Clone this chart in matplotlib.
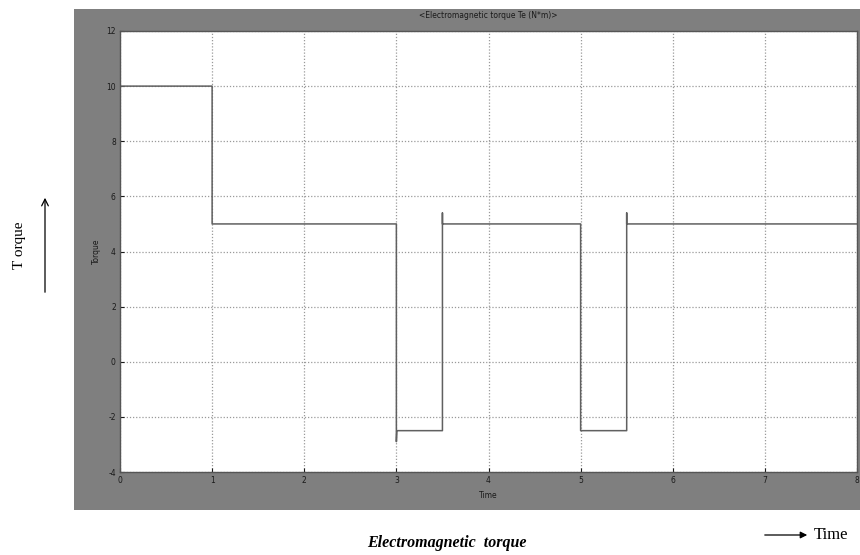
import matplotlib
matplotlib.use('Agg')
import matplotlib.pyplot as plt
from matplotlib.patches import Rectangle, FancyArrowPatch

plt.rcParams['axes.unicode_minus'] = False

# Electromagnetic torque trace (step response)
time = [0, 0, 1, 1, 3, 3, 3.005, 3.5, 3.5, 3.5, 5, 5, 5.5, 5.5, 5.5, 8]
torque = [-4, 10, 10, 5, 5, -2.9, -2.5, -2.5, 5.4, 5, 5, -2.5, -2.5, 5.4, 5, 5]

x_ticks = [0, 1, 2, 3, 4, 5, 6, 7, 8]
y_ticks = [-4, -2, 0, 2, 4, 6, 8, 10, 12]

fig = plt.figure(figsize=(8.6, 5.55), dpi=100)
fig.patch.set_facecolor('white')

# grey scope frame behind the axes
fig.patches.append(Rectangle((74 / 860, 1 - 510 / 555), 1 - 74 / 860, (510 - 9) / 555,
                             transform=fig.transFigure, facecolor='#7f7f7f',
                             edgecolor='none', zorder=-10))

ax = fig.add_axes([120 / 860, 1 - 472 / 555, 737 / 860, 441 / 555])
ax.set_zorder(5)
ax.set_facecolor('white')
ax.plot(time, torque, color='#606060', linewidth=1.1)

ax.set_xlim(0, 8)
ax.set_ylim(-4, 12)
ax.set_xticks(x_ticks)
ax.set_yticks(y_ticks)
ax.tick_params(direction='in', length=3, labelsize=5.5, colors='#1a1a1a',
               pad=3)
ax.grid(True, color='#9a9a9a', linestyle=(0, (1, 1.5)), linewidth=0.9)
for side in ax.spines.values():
    side.set_color('#555555')
    side.set_linewidth(1.0)

ax.set_title('<Electromagnetic torque Te (N*m)>', fontsize=5.5, color='#1a1a1a',
             pad=9)
ax.set_xlabel('Time', fontsize=5.5, color='#1a1a1a', labelpad=4)
ax.set_ylabel('Torque', fontsize=5.5, color='#1a1a1a', labelpad=4)

# annotations outside the scope
fig.text(20 / 860, 1 - 245 / 555, 'T orque', rotation=90, ha='center', va='center',
         family='Liberation Serif', fontsize=11)
fig.add_artist(FancyArrowPatch(
    (45 / 860, 1 - 295 / 555), (45 / 860, 1 - 195 / 555),
    transform=fig.transFigure, arrowstyle='->', mutation_scale=12,
    color='black', linewidth=0.9))
fig.text(447 / 860, 1 - 543 / 555, 'Electromagnetic  torque', ha='center',
         va='center', family='Liberation Serif', fontweight='bold',
         style='italic', fontsize=11.5)
fig.add_artist(FancyArrowPatch(
    (762 / 860, 1 - 535 / 555), (810 / 860, 1 - 535 / 555),
    transform=fig.transFigure, arrowstyle='-|>', mutation_scale=10,
    color='black', linewidth=0.9))
fig.text(814 / 860, 1 - 535 / 555, 'Time', ha='left', va='center',
         family='Liberation Serif', fontsize=12)

fig.savefig('out.png', dpi=100)
plt.close(fig)
